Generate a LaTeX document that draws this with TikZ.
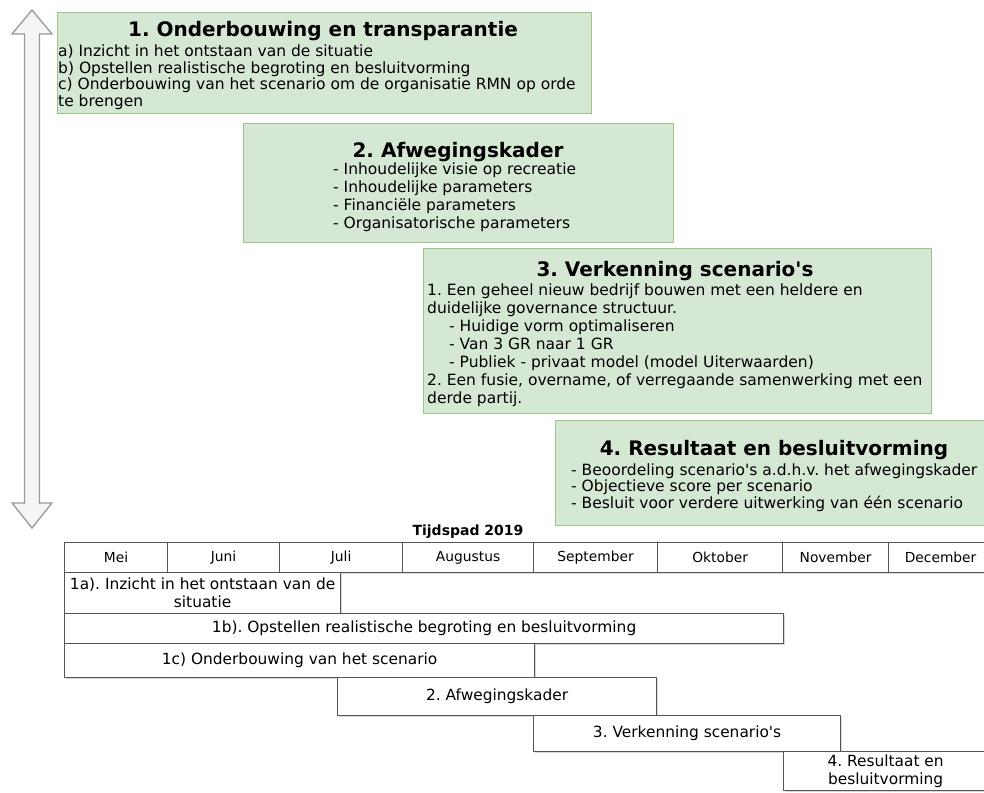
\documentclass[tikz,border=0pt]{standalone}
\usepackage{fontspec}
\setmainfont{DejaVu Sans}
\usepackage{tikz}
\usetikzlibrary{shadows}

\definecolor{phasefill}{HTML}{D5E8D4}
\definecolor{phaseline}{HTML}{9DC48B}
\definecolor{barline}{HTML}{555555}
\definecolor{arrowfill}{HTML}{F5F5F5}
\definecolor{arrowline}{HTML}{999999}

\newcommand{\phaselines}[1]{\begin{tabular}[t]{@{}l@{}}#1\end{tabular}}
\newcommand{\q}{\textquotesingle}
\frenchspacing

\begin{document}
\begin{tikzpicture}[x=1pt,y=-1pt,
            phase/.style={draw=phaseline, fill=phasefill, line width=1.2pt,
                inner sep=0pt, anchor=north west},
            phasetitle/.style={font=\fontsize{20}{24}\selectfont\bfseries,
                anchor=base, inner sep=0pt},
            phasetext/.style={font=\fontsize{15.5}{#1}\selectfont,
                anchor=base west, inner sep=0pt},
            cell/.style={draw=barline, fill=white, line width=1.2pt,
                drop shadow={shadow xshift=1.5pt, shadow yshift=-1.5pt, opacity=.3}},
            month/.style={cell, anchor=north west, minimum height=30,
                font=\fontsize{13.8}{16}\selectfont},
            bar/.style={cell, anchor=north west, align=center, inner sep=1pt,
                font=\fontsize{15.4}{18}\selectfont}]
    \useasboundingbox (0,0) rectangle (984,792);

    % double arrow on the left
    \draw[fill=arrowfill, draw=arrowline, line width=1.3pt, line join=miter]
        (32,10) -- (52,34) -- (39.5,34) -- (39.5,503) -- (52,503) -- (32,528)
        -- (12,503) -- (24.5,503) -- (24.5,34) -- (12,34) -- cycle;

    % phases
    \node[phase, minimum width=534, minimum height=101] (p1) at (57,12) {};
    \node[phasetitle] (p1-title) at (323,37) {1. Onderbouwing en transparantie};
    \node[phasetext=16.4] (p1-text) at (58,56.5) {\phaselines{
        a) Inzicht in het ontstaan van de situatie\\
        b) Opstellen realistische begroting en besluitvorming\\
        c) Onderbouwing van het scenario om de organisatie RMN op orde\\
        te brengen}};

    \node[phase, minimum width=430, minimum height=119] (p2) at (243,123) {};
    \node[phasetitle] (p2-title) at (458,157) {2. Afwegingskader};
    \node[phasetext=18] (p2-text) at (333,174) {\phaselines{
        - Inhoudelijke visie op recreatie\\
        - Inhoudelijke parameters\\
        - Financiële parameters\\
        - Organisatorische parameters}};

    \node[phase, minimum width=508, minimum height=165] (p3) at (423,248) {};
    \node[phasetitle] (p3-title) at (675,276) {3. Verkenning scenario\q s};
    \node[phasetext=18] (p3-text) at (427,295) {\phaselines{
        1. Een geheel nieuw bedrijf bouwen met een heldere en\\
        duidelijke governance structuur.\\
        \hspace*{22pt}- Huidige vorm optimaliseren\\
        \hspace*{22pt}- Van 3 GR naar 1 GR\\
        \hspace*{22pt}- Publiek - privaat model (model Uiterwaarden)\\
        2. Een fusie, overname, of verregaande samenwerking met een\\
        derde partij.}};

    \node[phase, minimum width=437, minimum height=105] (p4) at (555,420) {};
    \node[phasetitle] (p4-title) at (774,455) {4. Resultaat en besluitvorming};
    \node[phasetext=16] (p4-text) at (571,475) {\phaselines{
        - Beoordeling scenario\q s a.d.h.v. het afwegingskader\\
        - Objectieve score per scenario\\
        - Besluit voor verdere uitwerking van één scenario}};

    % timeline
    \node[font=\fontsize{14}{16}\selectfont\bfseries, anchor=base] (tijdspad)
        at (468,535) {Tijdspad 2019};
    \foreach \l/\r/\m [count=\i] in {64/167/Mei, 167/279/Juni, 279/402/Juli,
            402/533/Augustus, 533/657/September, 657/782/Oktober,
            782/888/November, 888/992/December}
        \node[month, minimum width=\r-\l] (month-\i) at (\l,542) {\m};

    \node[bar, minimum width=276, minimum height=41] (t1a) at (64,572)
        {1a). Inzicht in het ontstaan van de\\situatie};
    \node[bar, minimum width=719, minimum height=30] (t1b) at (64,613)
        {1b). Opstellen realistische begroting en besluitvorming};
    \node[bar, minimum width=470, minimum height=34] (t1c) at (64,643)
        {1c) Onderbouwing van het scenario};
    \node[bar, minimum width=319, minimum height=38] (t2) at (337,677)
        {2. Afwegingskader};
    \node[bar, minimum width=307, minimum height=36] (t3) at (533,715)
        {3. Verkenning scenario\q s};
    \node[bar, minimum width=204, minimum height=39] (t4) at (783,751)
        {4. Resultaat en\\besluitvorming};
\end{tikzpicture}
\end{document}
